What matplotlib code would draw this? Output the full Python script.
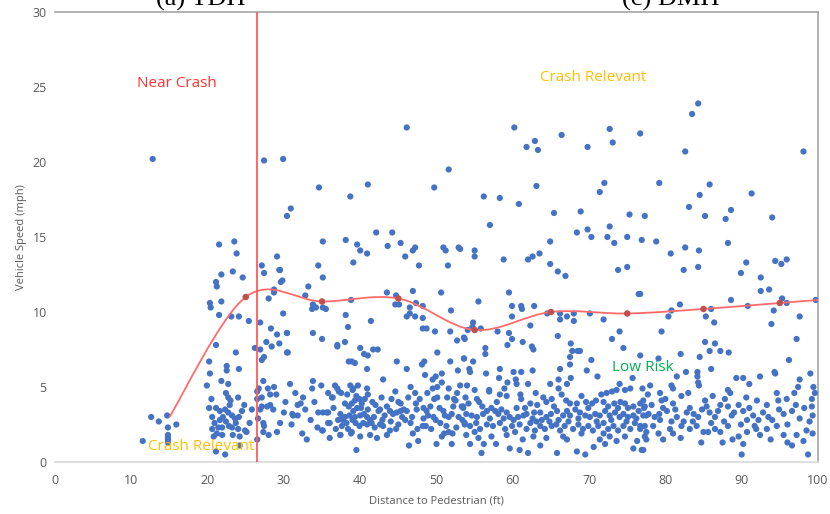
import matplotlib
matplotlib.use("Agg")
import matplotlib.pyplot as plt
from matplotlib.path import Path
from matplotlib.patches import PathPatch

plt.rcParams["font.family"] = ["Open Sans", "DejaVu Sans"]

# distance (ft), speed (mph) pairs, grouped by area of the plot
near_crash_pts = [
    (12.8, 20.2), (12.6, 3.0), (13.6, 2.7), (14.7, 3.1), (15.9, 2.5), (14.8, 2.3),
    (14.8, 1.8), (14.8, 1.6), (14.8, 1.5), (14.8, 1.3), (11.5, 1.4),
    (21.5, 14.5), (23.5, 14.7), (23.8, 13.9), (21.8, 12.5), (23.3, 12.7), (24.6, 12.3),
    (21.1, 12.0), (21.2, 11.7), (21.8, 10.7), (20.3, 10.6), (20.4, 10.3), (21.5, 9.8),
    (23.1, 9.7), (24.1, 9.7), (25.4, 9.4), (21.1, 7.8), (23.7, 7.3), (20.2, 6.7),
    (22.5, 6.4), (22.5, 6.1), (24.1, 6.2), (20.3, 5.9), (21.8, 5.4), (19.9, 5.1),
    (22.7, 5.2), (22.4, 4.6), (22.7, 4.3), (23.0, 4.1), (24.0, 4.3), (24.8, 3.8),
    (20.2, 3.6), (21.1, 3.6), (21.6, 3.4), (22.3, 3.5), (22.7, 3.3), (25.8, 3.5),
    (20.6, 3.0), (23.2, 3.1), (23.6, 2.9), (24.1, 3.0), (22.4, 2.7), (22.8, 2.4),
    (21.9, 2.3), (21.4, 2.3), (23.2, 2.3), (24.0, 2.2), (21.2, 1.9), (21.9, 1.8),
    (20.8, 1.7), (23.3, 1.8), (24.2, 1.7), (24.9, 2.1), (25.1, 2.0), (21.1, 0.7),
    (22.3, 0.5), (24.2, 1.1), (26.5, 1.5), (20.9, 2.6), (22.0, 3.0), (23.7, 2.6),
    (20.5, 4.2), (21.6, 2.8), (22.9, 3.8), (24.5, 3.4), (25.5, 2.6), (20.6, 2.2),
]

upper_pts = [
    (27.4, 20.1), (29.9, 20.2), (30.4, 16.4), (30.9, 16.9), (34.6, 18.3), (38.7, 17.7),
    (41.0, 18.5), (46.1, 22.3), (51.6, 19.5), (49.7, 18.3), (42.1, 15.3), (44.2, 15.3),
    (35.1, 14.7), (38.1, 14.8), (39.6, 14.5), (40.0, 14.1), (40.9, 13.9), (43.6, 14.4),
    (45.3, 14.6), (47.2, 14.3), (46.9, 14.1), (45.9, 13.7), (47.7, 13.1), (50.9, 14.3),
    (51.2, 14.1), (52.9, 14.3), (51.5, 13.1), (39.1, 13.3), (34.5, 13.1), (35.1, 12.3),
    (29.8, 12.1), (29.5, 12.8), (29.1, 13.7), (27.1, 13.1), (27.4, 12.6), (29.4, 12.8),
    (28.7, 11.5),
    (60.2, 22.3), (72.7, 22.2), (66.4, 21.8), (62.9, 21.4), (61.8, 21.0), (63.3, 20.8),
    (69.8, 21.0), (73.1, 21.3), (63.1, 18.4), (72.0, 18.6), (71.4, 18.0), (56.2, 17.7),
    (58.3, 17.6), (60.8, 17.2), (65.4, 16.6), (68.9, 16.7), (75.3, 16.5), (57.0, 15.8),
    (68.4, 15.3), (69.8, 15.5), (70.3, 15.0), (72.4, 15.0), (72.7, 15.7), (73.3, 14.6),
    (75.0, 15.0), (64.9, 14.7), (53.1, 14.2), (55.0, 14.1), (55.0, 13.7), (58.8, 13.5),
    (62.0, 13.5), (62.6, 13.7), (63.5, 13.9), (64.9, 13.2), (65.9, 12.7), (66.9, 12.4),
    (73.8, 12.8), (75.0, 13.0),
    (84.3, 23.9), (83.5, 23.2), (76.7, 21.9), (82.6, 20.7), (98.1, 20.7), (79.2, 18.6),
    (85.8, 18.5), (84.5, 17.8), (91.3, 17.9), (83.1, 17.0), (77.3, 16.4), (85.2, 16.4),
    (88.6, 16.8), (87.9, 16.2), (94.0, 16.3), (76.9, 14.8), (78.8, 14.7), (80.7, 13.9),
    (82.6, 14.3), (84.4, 14.1), (88.2, 14.6), (82.4, 12.8), (84.3, 13.0), (90.6, 13.3),
    (89.9, 12.6), (94.4, 13.4), (95.2, 13.2), (95.9, 13.5), (92.5, 12.3),
]

middle_pts = [
    (29.6, 12.0), (28.7, 11.3), (28.0, 10.9), (29.9, 9.9), (26.9, 9.3), (28.3, 8.9),
    (30.4, 8.6), (29.1, 8.5), (27.7, 8.0), (29.4, 7.9), (28.4, 7.7), (26.2, 7.6),
    (26.9, 7.5), (30.4, 7.3), (27.4, 7.0), (27.1, 6.8), (27.3, 5.4), (27.9, 4.9),
    (28.7, 5.0), (26.7, 4.9), (26.5, 4.7), (28.2, 4.5), (27.1, 4.3), (26.5, 4.2),
    (33.2, 11.7), (32.8, 11.1), (33.8, 10.5), (33.7, 10.2), (34.2, 10.3), (35.1, 10.3),
    (35.5, 10.2), (38.8, 10.8), (43.5, 11.3), (44.7, 11.1), (44.6, 10.5), (45.1, 10.5),
    (46.9, 11.4), (47.3, 10.6), (48.2, 10.4), (46.5, 10.3), (46.5, 9.9), (46.1, 9.7),
    (47.2, 9.7), (50.6, 11.3), (51.9, 10.1), (38.1, 9.8), (41.4, 9.4), (30.4, 8.6),
    (33.8, 8.6), (35.0, 8.2), (38.4, 9.0), (48.2, 9.6), (48.2, 8.9), (48.7, 8.9),
    (49.8, 8.7), (51.8, 8.7), (52.7, 8.1), (53.6, 8.3), (54.1, 8.8), (37.0, 7.8),
    (38.0, 8.0), (30.5, 7.3), (40.0, 7.6), (40.5, 7.2), (41.0, 7.1), (41.7, 7.5),
    (42.3, 7.5), (38.5, 6.7), (38.9, 6.7), (39.3, 6.6), (40.9, 6.2), (44.8, 6.7),
    (46.1, 6.2), (48.4, 6.7), (48.1, 6.5), (48.5, 5.8), (50.1, 7.3), (51.8, 6.7),
    (53.6, 6.9), (52.8, 6.1), (37.0, 7.7),
    (59.5, 11.3), (55.5, 10.7), (59.9, 10.4), (59.9, 9.7), (61.1, 10.4), (61.2, 10.2),
    (62.8, 10.4), (64.5, 9.9), (66.2, 9.9), (66.2, 9.5), (67.1, 9.7), (68.0, 9.9),
    (68.0, 9.4), (70.1, 9.9), (71.9, 9.5), (76.5, 11.2), (54.8, 9.3), (54.7, 9.0),
    (55.8, 8.9), (58.0, 8.7), (59.5, 8.6), (62.3, 9.1), (59.9, 8.2), (59.3, 7.8),
    (61.3, 8.0), (62.5, 7.7), (62.7, 7.5), (65.9, 8.4), (67.6, 7.9), (67.8, 7.4),
    (68.5, 7.4), (68.8, 7.4), (73.0, 8.2), (74.0, 8.7), (74.5, 7.6), (76.7, 7.1),
    (53.7, 8.2), (56.4, 7.6), (56.4, 7.2), (53.6, 6.9), (54.8, 6.7), (54.3, 6.2),
    (54.4, 6.0), (56.5, 5.9), (58.3, 6.2), (60.1, 6.0), (61.1, 6.0), (62.6, 6.1),
    (66.2, 6.2), (67.5, 6.5), (67.5, 7.0), (70.3, 6.8), (69.7, 6.1), (71.1, 5.7),
    (67.6, 5.6), (66.0, 5.5), (75.7, 5.6), (58.2, 5.6), (60.4, 5.5),
    (93.6, 11.5), (92.5, 11.4), (88.6, 10.8), (81.9, 10.5), (80.8, 10.1), (80.4, 9.7),
    (86.0, 10.2), (85.3, 9.7), (86.4, 9.3), (90.8, 10.4), (95.3, 10.9), (95.9, 10.6),
    (94.2, 10.1), (93.9, 9.2), (97.6, 9.7), (99.7, 10.8), (97.2, 8.2), (79.5, 8.7),
    (76.7, 11.2), (85.2, 8.0), (86.5, 7.9), (85.8, 7.4), (87.2, 7.4), (88.3, 7.3),
    (82.0, 7.2), (84.5, 7.0), (86.0, 6.2), (96.2, 6.8), (79.1, 6.9), (82.7, 6.0),
    (84.2, 6.0), (84.2, 5.7), (81.5, 5.7), (89.3, 5.6), (90.2, 5.6), (92.4, 5.7),
    (94.3, 6.0), (94.4, 5.9), (97.6, 5.5), (99.0, 5.9),
]

low_band_pts = [
    (27.8, 3.7), (27.3, 2.6), (31.2, 3.1), (35.0, 2.1), (35.8, 3.3), (36.0, 2.6),
    (37.4, 1.8), (27.1, 3.7), (26.9, 3.5), (28.2, 3.8), (28.6, 3.5), (30.0, 3.3),
    (26.6, 2.9), (27.4, 2.4), (27.3, 2.0), (29.1, 2.0), (33.8, 5.4), (33.7, 4.9),
    (34.9, 5.1), (31.5, 4.6), (36.7, 5.1), (37.0, 4.9), (37.2, 4.7), (37.5, 4.6),
    (35.8, 4.6), (36.3, 4.3), (36.4, 4.3), (38.7, 5.1), (39.1, 4.9), (39.7, 5.1),
    (40.9, 4.9), (41.0, 4.5), (43.0, 5.5), (44.6, 4.7), (46.3, 4.3), (45.3, 3.9),
    (45.0, 4.0), (47.3, 3.9), (49.5, 5.5), (49.9, 5.7), (50.7, 5.9), (49.5, 4.9),
    (50.1, 5.0), (50.7, 5.3), (51.6, 4.9), (53.1, 5.1), (52.7, 4.6), (52.3, 4.2),
    (53.5, 3.6), (49.7, 4.2), (50.1, 4.3), (31.8, 3.8), (32.2, 3.9), (31.1, 3.2),
    (31.8, 3.1), (34.5, 3.3), (35.1, 3.3), (35.6, 3.3), (35.8, 2.6), (32.4, 1.9),
    (35.1, 2.1), (38.0, 3.9), (38.5, 3.7), (38.9, 3.9), (39.3, 4.1), (39.5, 4.4),
    (39.9, 4.2), (40.2, 3.9), (39.6, 3.6), (39.1, 3.4), (38.6, 3.1), (38.0, 3.0),
    (37.6, 2.9), (37.4, 3.2), (39.3, 3.0), (40.0, 3.1), (40.5, 3.2), (40.9, 3.0),
    (41.3, 2.8), (41.8, 3.0), (42.4, 3.4), (42.6, 3.5), (43.5, 3.7), (43.9, 3.4),
    (44.3, 3.2), (44.8, 3.3), (45.3, 3.4), (45.7, 3.5), (46.1, 3.4), (45.9, 2.8),
    (42.9, 2.8), (42.6, 2.5), (43.0, 2.4), (41.5, 2.6), (40.9, 2.5), (40.4, 2.6),
    (39.9, 2.4), (39.4, 2.6), (39.0, 2.8), (38.2, 2.6), (37.7, 2.8), (37.1, 2.8),
    (37.6, 2.4), (38.9, 2.0), (37.4, 1.8), (40.0, 1.7), (41.3, 1.8), (42.2, 1.6),
    (45.0, 2.5), (43.9, 2.1), (46.4, 1.1), (39.5, 0.8), (38.8, 1.9), (48.3, 3.6),
    (48.7, 3.4), (48.9, 3.1), (48.3, 2.9), (48.2, 2.4), (48.6, 2.4), (49.6, 3.0),
    (49.9, 2.8), (50.9, 3.4), (51.1, 3.1), (51.6, 3.0), (52.0, 3.2), (52.2, 3.7),
    (52.5, 4.1), (51.3, 2.4), (51.0, 1.9), (50.7, 1.7), (51.6, 2.0), (52.1, 1.9),
    (53.4, 2.8), (53.7, 2.5), (50.0, 1.2), (52.0, 1.2), (53.3, 3.7), (47.4, 3.5),
    (46.8, 3.0), (47.5, 2.2), (46.9, 1.9), (47.2, 4.6), (46.6, 5.0),
    (29.0, 4.5), (30.2, 4.0), (31.0, 2.5), (32.8, 3.5), (33.5, 2.8), (34.0, 4.0),
    (34.4, 2.3), (36.5, 3.6), (36.8, 2.2), (29.5, 2.6), (28.0, 1.8), (33.0, 1.5),
    (30.8, 5.2), (32.5, 4.3), (38.3, 4.5), (39.0, 4.8), (40.6, 4.2), (41.6, 4.0),
    (42.0, 3.8), (43.2, 3.1), (44.0, 2.7), (44.7, 2.2), (45.5, 3.0), (41.0, 3.5),
    (42.8, 4.3), (38.4, 2.2), (40.1, 3.6), (41.9, 2.3), (44.1, 4.2), (36.0, 1.6),
    (43.5, 1.8), (47.8, 4.2), (48.8, 4.6), (49.2, 3.7), (50.4, 3.6), (50.5, 2.6),
    (51.4, 4.3), (52.9, 3.0), (53.8, 4.3), (47.6, 1.4), (49.3, 2.2), (52.6, 2.3),
    (46.6, 2.6),
    (67.1, 5.2), (54.0, 5.1), (55.0, 4.8), (56.9, 4.7), (56.9, 4.8), (59.3, 5.3),
    (60.5, 5.2), (62.0, 5.2), (64.9, 5.2), (55.3, 4.2), (55.6, 4.0), (53.5, 3.7),
    (58.3, 4.5), (59.2, 4.4), (61.0, 4.5), (61.1, 4.2), (62.3, 3.9), (63.2, 3.8),
    (64.0, 4.3), (64.4, 4.0), (65.1, 4.2), (66.4, 4.5), (67.0, 4.1), (67.5, 3.9),
    (68.4, 3.9), (69.6, 4.0), (70.9, 4.1), (71.6, 4.5), (72.3, 4.6), (73.0, 4.7),
    (73.6, 4.8), (74.7, 4.8), (75.4, 4.9), (77.0, 4.9), (77.7, 4.5), (71.9, 4.0),
    (72.5, 3.7), (73.3, 3.9), (74.1, 4.0), (74.7, 3.9), (75.1, 3.6), (75.8, 3.7),
    (76.7, 3.9), (77.3, 3.7),
    (53.9, 3.2), (54.6, 3.1), (55.3, 3.0), (56.1, 3.2), (56.6, 3.4), (57.2, 3.6),
    (57.7, 3.4), (58.1, 3.2), (58.5, 3.5), (59.2, 3.3), (59.6, 3.0), (60.1, 2.8),
    (60.7, 3.0), (61.4, 3.1), (61.8, 3.2), (62.6, 2.9), (63.1, 2.7), (63.8, 2.8),
    (64.4, 3.0), (65.0, 3.2), (65.8, 3.4), (66.6, 3.1), (67.1, 3.4), (67.5, 3.1),
    (68.2, 3.5), (68.8, 3.3), (69.5, 3.1), (70.1, 3.0), (70.8, 3.2), (71.4, 3.1),
    (72.1, 3.4), (72.7, 3.1), (73.4, 3.3), (74.0, 3.0), (74.5, 3.2), (75.1, 3.0),
    (75.8, 3.1), (76.5, 3.4), (77.1, 3.1), (77.8, 3.2),
    (53.7, 2.6), (54.4, 2.4), (55.2, 2.6), (55.7, 2.2), (56.6, 2.5), (57.4, 2.4),
    (58.3, 2.6), (59.0, 2.2), (59.9, 2.4), (60.3, 2.0), (60.9, 2.5), (61.8, 2.2),
    (62.3, 2.6), (62.9, 2.1), (63.6, 2.4), (64.2, 2.2), (65.1, 2.4), (65.7, 2.5),
    (66.2, 2.1), (66.8, 2.4), (67.3, 2.7), (67.9, 2.2), (68.6, 2.5), (69.2, 2.2),
    (69.9, 2.4), (70.5, 2.1), (71.2, 2.4), (71.9, 2.6), (72.5, 2.2), (73.2, 2.4),
    (73.8, 2.1), (74.5, 2.4), (75.4, 2.2), (76.0, 2.6), (76.7, 2.2), (77.3, 2.4),
    (53.9, 1.8), (54.4, 1.2), (55.5, 1.6), (55.9, 0.6), (57.2, 1.7), (57.8, 1.2),
    (59.2, 1.8), (59.6, 0.9), (60.9, 0.8), (62.0, 0.6), (62.7, 1.7), (63.6, 1.1),
    (65.8, 0.6), (66.6, 1.7), (67.1, 1.5), (68.4, 0.7), (69.5, 0.5), (70.6, 1.0),
    (71.4, 1.5), (72.1, 1.2), (72.7, 1.7), (73.6, 1.4), (74.7, 1.7), (75.8, 0.9),
    (76.9, 0.8), (77.5, 1.5),
    (54.2, 3.9), (56.0, 3.7), (57.9, 4.0), (58.8, 2.9), (60.5, 3.6), (61.6, 3.6),
    (62.8, 3.3), (63.6, 3.3), (64.8, 2.7), (65.4, 3.7), (66.0, 2.8), (68.6, 2.9),
    (69.9, 3.6), (70.4, 3.9), (71.0, 2.7), (72.9, 2.8), (73.8, 3.6), (74.9, 2.7),
    (76.2, 2.9), (57.0, 2.9), (55.0, 2.0), (64.4, 1.6), (69.0, 1.9), (71.9, 1.9),
    (76.3, 1.4), (58.9, 4.9), (63.0, 4.6), (69.0, 4.4), (74.0, 5.2), (66.0, 4.9),
    (61.3, 1.5), (56.2, 1.2),
    (84.3, 5.3), (84.4, 5.1), (80.8, 5.1), (81.0, 4.9), (78.0, 5.1), (91.0, 5.2),
    (97.4, 5.0), (99.4, 5.0), (99.2, 4.2), (88.2, 4.8), (88.5, 4.6),
    (77.1, 4.1), (77.2, 3.6), (77.5, 3.1), (78.2, 3.8), (79.3, 4.6), (79.5, 4.1),
    (79.7, 3.6), (79.2, 3.2), (79.3, 2.8), (81.0, 3.9), (81.3, 3.5), (81.5, 3.0),
    (82.1, 4.4), (82.4, 2.7), (83.2, 3.6), (83.7, 3.2), (84.3, 3.0), (85.2, 4.1),
    (85.4, 3.7), (85.8, 3.3), (86.5, 3.0), (87.2, 3.8), (87.8, 4.2), (88.2, 3.7),
    (88.7, 3.1), (89.6, 3.8), (90.2, 3.4), (90.7, 2.8), (91.5, 3.1), (92.2, 2.8),
    (93.3, 3.8), (93.5, 3.0), (94.6, 4.6), (94.8, 4.1), (95.5, 3.2), (95.9, 4.2),
    (96.6, 3.4), (97.1, 3.8), (98.2, 3.6), (99.2, 3.7), (99.3, 3.1), (76.7, 2.4),
    (77.5, 2.0), (77.3, 1.7), (78.4, 2.4), (79.1, 1.9), (79.7, 1.5), (80.6, 2.2),
    (81.0, 1.9), (82.1, 2.4), (83.2, 2.2), (84.1, 2.4), (85.0, 2.0), (85.6, 2.0),
    (86.5, 2.2), (87.2, 2.0), (88.2, 2.4), (88.8, 1.5), (89.6, 1.7), (90.2, 1.2),
    (90.7, 2.0), (91.7, 2.4), (92.4, 1.8), (93.3, 2.2), (94.6, 2.4), (95.5, 1.8),
    (96.6, 1.1), (97.2, 1.8), (98.1, 1.4), (98.5, 2.1), (98.7, 0.5), (90.0, 0.5),
    (77.1, 0.8),
    (78.6, 3.0), (80.2, 3.4), (80.8, 2.7), (82.8, 3.3), (83.6, 2.7), (84.8, 3.5),
    (86.0, 2.6), (86.9, 3.4), (87.7, 2.7), (89.0, 3.3), (89.9, 2.5), (91.0, 3.6),
    (91.9, 2.2), (92.8, 3.3), (94.0, 2.8), (94.9, 3.5), (96.0, 2.5), (97.6, 2.9),
    (98.9, 2.7), (80.0, 4.2), (83.0, 4.6), (86.2, 4.4), (90.6, 4.3), (92.0, 4.1),
    (96.9, 4.6), (99.6, 4.6), (82.0, 1.6), (84.7, 1.3), (87.5, 1.3), (93.8, 1.5),
    (96.0, 1.3), (99.3, 1.9),
]

# bin means drawn as a smoothed line
mean_dist = [15, 25, 35, 45, 55, 65, 75, 85, 95, 100]
mean_speed = [3.0, 11.0, 10.7, 10.9, 8.8, 10.0, 9.9, 10.2, 10.6, 10.8]
marker_dist = mean_dist[1:-1]
marker_speed = mean_speed[1:-1]

threshold_ft = 26.5

x_ticks = list(range(0, 101, 10))
y_ticks = list(range(0, 31, 5))

all_pts = near_crash_pts + upper_pts + middle_pts + low_band_pts
dist = [p[0] for p in all_pts]
speed = [p[1] for p in all_pts]

fig = plt.figure(figsize=(8.30, 5.14), dpi=100)
ax = fig.add_axes([0.0663, 0.1012, 0.9192, 0.8755])

ax.scatter(dist, speed, s=20, color="#4472C4", edgecolors="none", zorder=3)


def smooth_path(xs, ys):
    # Bezier segments with control points from neighbouring points
    pts = list(zip(xs, ys))
    verts = [pts[0]]
    codes = [Path.MOVETO]
    n = len(pts)
    for i in range(n - 1):
        p0 = pts[i - 1] if i > 0 else pts[i]
        p1 = pts[i]
        p2 = pts[i + 1]
        p3 = pts[i + 2] if i + 2 < n else pts[i + 1]
        c1 = (p1[0] + (p2[0] - p0[0]) / 6, p1[1] + (p2[1] - p0[1]) / 6)
        c2 = (p2[0] - (p3[0] - p1[0]) / 6, p2[1] - (p3[1] - p1[1]) / 6)
        verts += [c1, c2, p2]
        codes += [Path.CURVE4] * 3
    return Path(verts, codes)


ax.add_patch(PathPatch(smooth_path(mean_dist, mean_speed), facecolor="none",
                       edgecolor="#FF6B6B", lw=1.3, zorder=4))
ax.scatter(marker_dist, marker_speed, s=22, color="#C0504D", edgecolors="none", zorder=5)

ax.axvline(threshold_ft, color="#FF5A5A", lw=1.3, zorder=4)

ax.text(16, 25.2, "Near Crash", color="#FF3333", fontsize=11, ha="center", va="center")
ax.text(70.6, 25.6, "Crash Relevant", color="#FFC000", fontsize=11, ha="center", va="center")
ax.text(19.1, 1.0, "Crash Relevant", color="#FFC000", fontsize=11, ha="center", va="center", zorder=6)
ax.text(77.0, 6.3, "Low Risk", color="#00B050", fontsize=11, ha="center", va="center", zorder=6)

ax.set_xlim(0, 100)
ax.set_ylim(0, 30)
ax.set_xticks(x_ticks)
ax.set_yticks(y_ticks)
ax.tick_params(length=0, labelsize=9, colors="#595959", pad=6)
ax.tick_params(axis="x", pad=9)
ax.set_xlabel("Distance to Pedestrian (ft)", fontsize=8, color="#595959", labelpad=6)
ax.set_ylabel("Vehicle Speed (mph)", fontsize=8, color="#595959", labelpad=4)

for side in ("top", "right"):
    ax.spines[side].set_color("#A6A6A6")
    ax.spines[side].set_linewidth(1.2)
ax.spines["bottom"].set_color("#D9D9D9")
ax.spines["bottom"].set_linewidth(1.2)
ax.spines["left"].set_visible(False)

# subfigure captions above, cut off by the page edge
fig.text(0.242, 0.99, "(a) TDH", fontsize=19, family="Liberation Serif", ha="center", va="baseline")
fig.text(0.808, 0.99, "(c) DMH", fontsize=19, family="Liberation Serif", ha="center", va="baseline")

fig.savefig("out.png", dpi=100)
